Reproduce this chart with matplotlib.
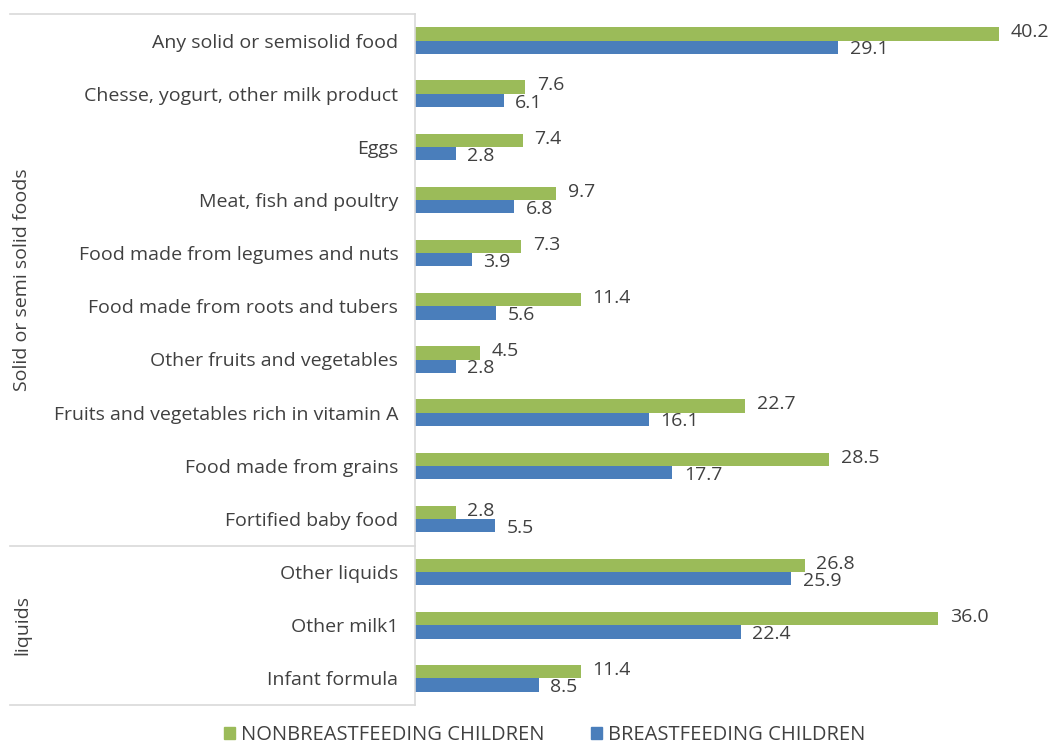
import matplotlib
matplotlib.use("Agg")
import matplotlib.pyplot as plt
import matplotlib.transforms as mtransforms
from matplotlib.lines import Line2D
from matplotlib.patches import Patch

categories = [
    "Any solid or semisolid food",
    "Chesse, yogurt, other milk product",
    "Eggs",
    "Meat, fish and poultry",
    "Food made from legumes and nuts",
    "Food made from roots and tubers",
    "Other fruits and vegetables",
    "Fruits and vegetables rich in vitamin A",
    "Food made from grains",
    "Fortified baby food",
    "Other liquids",
    "Other milk1",
    "Infant formula",
]
nonbreastfeeding = [40.2, 7.6, 7.4, 9.7, 7.3, 11.4, 4.5, 22.7, 28.5, 2.8, 26.8, 36.0, 11.4]
breastfeeding = [29.1, 6.1, 2.8, 6.8, 3.9, 5.6, 2.8, 16.1, 17.7, 5.5, 25.9, 22.4, 8.5]
groups = [("Solid or semi solid foods", 0, 10), ("liquids", 10, 13)]
series_names = ["NONBREASTFEEDING CHILDREN", "BREASTFEEDING CHILDREN"]

green = "#9BBB59"
blue = "#4A7EBB"
text_col = "#404040"
line_col = "#D9D9D9"

plt.rcParams["font.family"] = ["Open Sans", "DejaVu Sans"]
FS = 14
FS_VAL = 14
FS_LEG = 14.5

fig = plt.figure(figsize=(10.56, 7.45), dpi=100)
ax = fig.add_axes([415 / 1056, 1 - 705 / 745, 625 / 1056, 691 / 745])

n = len(categories)
ys = list(range(n))
h = 0.25
ax.barh([y - h / 2 for y in ys], nonbreastfeeding, height=h, color=green, label=series_names[0])
ax.barh([y + h / 2 for y in ys], breastfeeding, height=h, color=blue, label=series_names[1])

for y, v in zip(ys, nonbreastfeeding):
    ax.text(v + 0.8, y - h / 2 - 0.03, f"{v:.1f}", va="center", ha="left", fontsize=FS_VAL, color=text_col)
for y, v in zip(ys, breastfeeding):
    ax.text(v + 0.8, y + h / 2 + 0.04, f"{v:.1f}", va="center", ha="left", fontsize=FS_VAL, color=text_col)

ax.set_ylim(n - 0.5, -0.5)
ax.set_xlim(0, 43)
ax.set_yticks(ys)
ax.set_yticklabels(categories, fontsize=FS, color=text_col)
ax.tick_params(axis="y", length=0, pad=12)
ax.set_xticks([])
for side in ["top", "right", "bottom"]:
    ax.spines[side].set_visible(False)
ax.spines["left"].set_color(line_col)
ax.spines["left"].set_linewidth(1.2)

# Group dividers and group labels to the left of the category labels
trans = mtransforms.blended_transform_factory(ax.transAxes, ax.transData)
x0 = (10 - 415) / 625
bounds = [-0.5, 9.5, n - 0.5]
for b in bounds:
    ax.add_line(Line2D([x0, 0], [b, b], transform=trans, color=line_col, lw=1.2, clip_on=False))
label_x = (22 - 415) / 625
for name, start, end in groups:
    mid = (start + end - 1) / 2
    ax.text(label_x, mid, name, transform=trans, rotation=90, ha="center", va="center",
            fontsize=FS, color=text_col)

handles = [Patch(color=green), Patch(color=blue)]
fig.legend(handles, series_names, loc="center", bbox_to_anchor=(545 / 1056, 1 - 735 / 745), ncol=2,
           frameon=False, fontsize=FS_LEG, handlelength=0.55, handleheight=0.55, handletextpad=0.3,
           columnspacing=2.3, labelcolor=text_col, borderpad=0)

fig.savefig("out.png", dpi=100, facecolor="white")
